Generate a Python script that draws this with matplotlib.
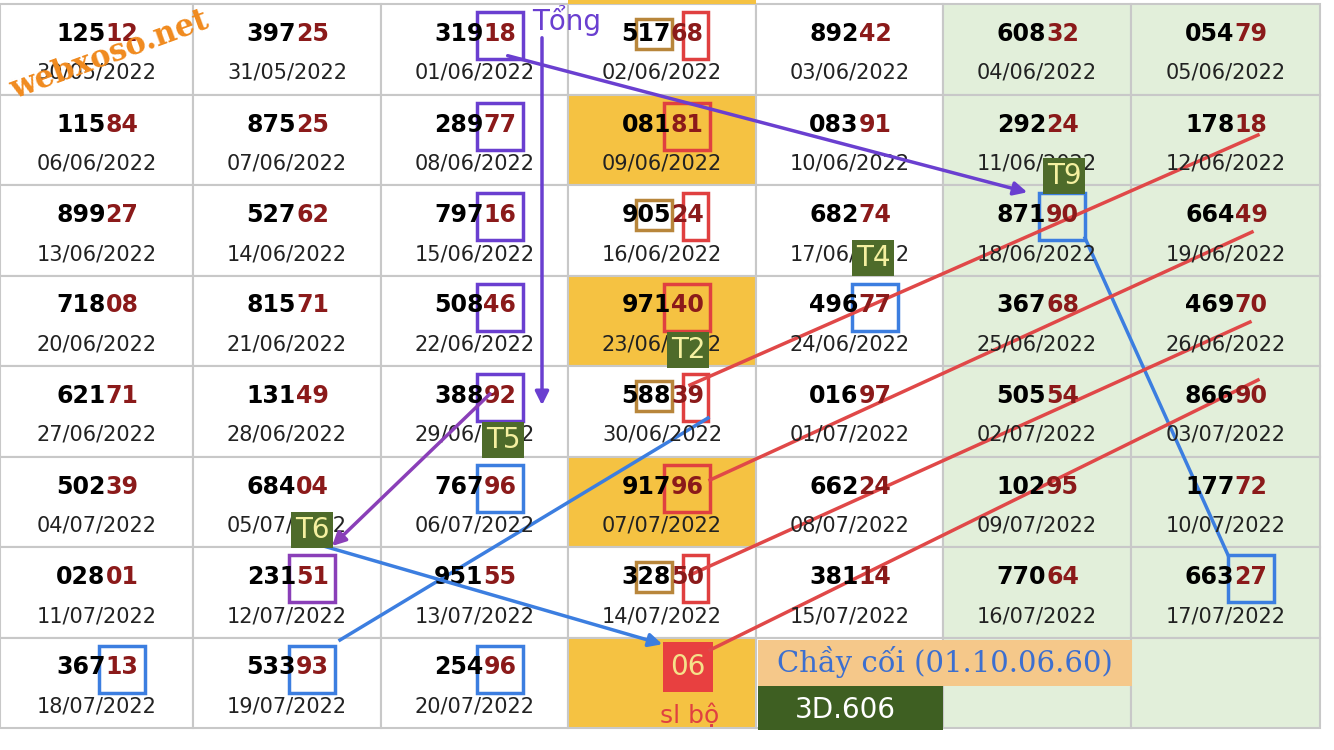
import matplotlib.pyplot as plt
from matplotlib.patches import Rectangle

numbers = [
    ["12512", "39725", "31918", "51768", "89242", "60832", "05479"],
    ["11584", "87525", "28977", "08181", "08391", "29224", "17818"],
    ["89927", "52762", "79716", "90524", "68274", "87190", "66449"],
    ["71808", "81571", "50846", "97140", "49677", "36768", "46970"],
    ["62171", "13149", "38892", "58839", "01697", "50554", "86690"],
    ["50239", "68404", "76796", "91796", "66224", "10295", "17772"],
    ["02801", "23151", "95155", "32850", "38114", "77064", "66327"],
    ["36713", "53393", "25496", "", "", "", ""],
]
dates = [
    ["30/05/2022", "31/05/2022", "01/06/2022", "02/06/2022", "03/06/2022", "04/06/2022", "05/06/2022"],
    ["06/06/2022", "07/06/2022", "08/06/2022", "09/06/2022", "10/06/2022", "11/06/2022", "12/06/2022"],
    ["13/06/2022", "14/06/2022", "15/06/2022", "16/06/2022", "17/06/2022", "18/06/2022", "19/06/2022"],
    ["20/06/2022", "21/06/2022", "22/06/2022", "23/06/2022", "24/06/2022", "25/06/2022", "26/06/2022"],
    ["27/06/2022", "28/06/2022", "29/06/2022", "30/06/2022", "01/07/2022", "02/07/2022", "03/07/2022"],
    ["04/07/2022", "05/07/2022", "06/07/2022", "07/07/2022", "08/07/2022", "09/07/2022", "10/07/2022"],
    ["11/07/2022", "12/07/2022", "13/07/2022", "14/07/2022", "15/07/2022", "16/07/2022", "17/07/2022"],
    ["18/07/2022", "19/07/2022", "20/07/2022", "", "", "", ""],
]
# (row, col, colour) boxes around last two digits
two_digit_boxes = [(0, 2, "#6A3FD0"), (1, 2, "#6A3FD0"), (2, 2, "#6A3FD0"), (3, 2, "#6A3FD0"),
                   (4, 2, "#6A3FD0"), (6, 1, "#8A3FB8"), (2, 5, "#3C7EE0"), (3, 4, "#3C7EE0"),
                   (5, 2, "#3C7EE0"), (6, 6, "#3C7EE0"), (7, 0, "#3C7EE0"), (7, 1, "#3C7EE0"),
                   (7, 2, "#3C7EE0"), (1, 3, "#E04040"), (3, 3, "#E04040"), (5, 3, "#E04040")]
# single last digit red + two middle digits brown
split_boxes = [0, 2, 4, 6]

col_x = [0, 193, 381, 568, 756, 943, 1131, 1320]
row_y = [4 + 90.5 * i for i in range(9)]
orange = "#F5C242"
green_bg = "#E2EFDA"

fig = plt.figure(figsize=(13.34, 7.5), dpi=100)
ax = fig.add_axes([0, 0, 1, 1])
ax.set_xlim(0, 1334)
ax.set_ylim(750, 0)
ax.axis("off")

for r in range(8):
    for c in range(7):
        x0, x1 = col_x[c], col_x[c + 1]
        y0, y1 = row_y[r], row_y[r + 1]
        fc = "white"
        if c >= 5:
            fc = green_bg
        if c == 3 and r % 2 == 1:
            fc = orange
        ax.add_patch(Rectangle((x0, y0), x1 - x0, y1 - y0, fc=fc, ec="#C8C8C8", lw=1.5))
        cx = (x0 + x1) / 2
        num = numbers[r][c]
        if num:
            ax.text(cx + 9, y0 + 30, num[:3], ha="right", va="center", fontsize=17,
                    fontweight="bold", color="black")
            ax.text(cx + 9, y0 + 30, num[3:], ha="left", va="center", fontsize=17,
                    fontweight="bold", color="#8B1A1A")
            ax.text(cx, y0 + 69, dates[r][c], ha="center", va="center", fontsize=15, color="#222222")
ax.add_patch(Rectangle((col_x[3], 0), col_x[4] - col_x[3], 4, fc=orange, ec="none"))

for r, c, col in two_digit_boxes:
    cx = (col_x[c] + col_x[c + 1]) / 2
    ax.add_patch(Rectangle((cx + 2, row_y[r] + 8), 46, 47, fc="none", ec=col, lw=2.5))
for r in split_boxes:
    cx = (col_x[3] + col_x[4]) / 2
    ax.add_patch(Rectangle((cx - 26, row_y[r] + 15), 36, 30, fc="none", ec="#B8863B", lw=2.5))
    ax.add_patch(Rectangle((cx + 21, row_y[r] + 8), 25, 47, fc="none", ec="#E04040", lw=2.5))

# bottom special cell
ax.add_patch(Rectangle((663, 642), 50, 50, fc="#E84040", ec="none"))
ax.text(688, 667, "06", ha="center", va="center", fontsize=20, color="#F5E28A")
ax.text(690, 716, "sl bộ", ha="center", va="center", fontsize=18, color="#E04040")
ax.add_patch(Rectangle((758, 640), 374, 46, fc="#F5C88A", ec="none"))
ax.text(945, 662, "Chầy cối (01.10.06.60)", ha="center", va="center", fontsize=21,
        color="#3C6FD0", family="DejaVu Serif")
ax.add_patch(Rectangle((758, 686), 185, 44, fc="#3E5F22", ec="none"))
ax.text(845, 710, "3D.606", ha="center", va="center", fontsize=20, color="white")

# lines and arrows
ap = dict(arrowstyle="-|>", lw=2.5, mutation_scale=20)
ax.annotate("", xy=(1030, 193), xytext=(505, 55), arrowprops=dict(color="#6A3FD0", **ap))
ax.annotate("", xy=(542, 408), xytext=(542, 35), arrowprops=dict(color="#6A3FD0", **ap))
ax.annotate("", xy=(330, 548), xytext=(492, 392), arrowprops=dict(color="#8A3FB8", **ap))
ax.annotate("", xy=(665, 645), xytext=(320, 545), arrowprops=dict(color="#3C7EE0", **ap))
ax.plot([1085, 1228], [238, 555], color="#3C7EE0", lw=2.5)
ax.plot([340, 708], [640, 418], color="#3C7EE0", lw=2.5)
for x0, y0, x1, y1 in [(690, 575, 1250, 322), (710, 480, 1252, 232),
                       (690, 385, 1258, 135), (710, 650, 1258, 380)]:
    ax.plot([x0, x1], [y0, y1], color="#E04848", lw=2.5)
ax.text(567, 20, "Tổng", ha="center", va="center", fontsize=20, color="#6A3FD0")

for label, x, y in [("T9", 1064, 176), ("T4", 873, 258), ("T2", 688, 350),
                    ("T5", 503, 440), ("T6", 312, 530)]:
    ax.text(x, y, label, ha="center", va="center", fontsize=20, color="#F5F0A0",
            bbox=dict(boxstyle="square,pad=0.15", fc="#4E6B2A", ec="none"))

ax.text(110, 55, "webxoso.net", ha="center", va="center", fontsize=22, fontweight="bold",
        color="#F08A1E", rotation=20, family="DejaVu Serif")

fig.savefig("out.png", dpi=100)
